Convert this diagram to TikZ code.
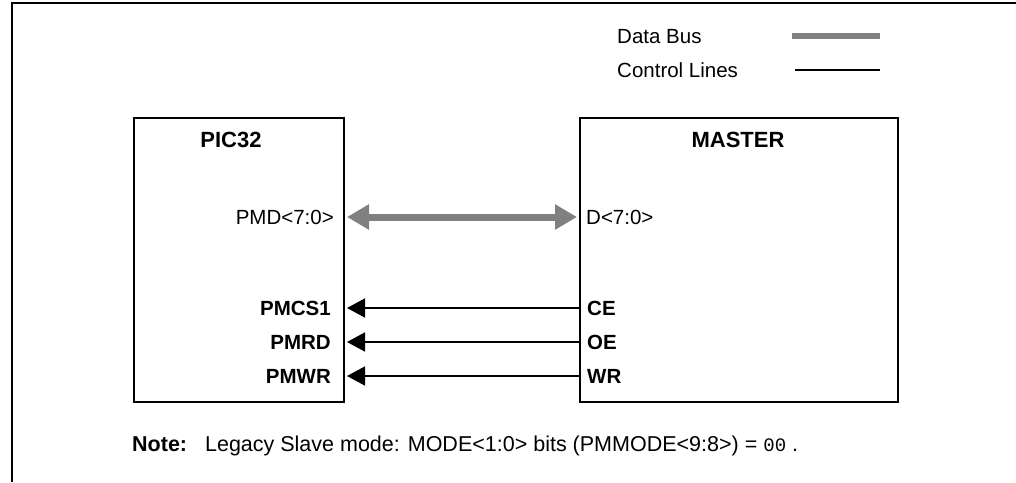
\documentclass[tikz,border=0pt]{standalone}
\usepackage{fontspec}
\setmainfont{Liberation Sans}
\newfontfamily\codefont{Liberation Mono}
\definecolor{busgray}{RGB}{128,128,128}
\usetikzlibrary{arrows.meta,positioning}

\begin{document}
\begin{tikzpicture}[x=1pt, y=-1pt,
  every node/.style={font=\fontsize{20.5}{24}\selectfont, inner sep=0pt},
  chip/.style={draw, line width=2pt, anchor=north west, minimum height=284pt},
  title/.style={font=\fontsize{22}{26}\selectfont\bfseries},
  pin/.style={font=\fontsize{20.5}{24}\selectfont\bfseries},
  bus/.style={busgray, line width=7pt, {Triangle[length=22pt,width=24pt]}-{Triangle[length=22pt,width=24pt]}, shorten <=2pt, shorten >=2pt},
  ctrl/.style={line width=1.5pt, -{Triangle[length=18pt,width=19pt]}, shorten >=2pt}]
\useasboundingbox (0,0) rectangle (1016,482);
\draw[line width=2pt] (12,482) -- (12,3) -- (1016,3);

% legend
\node[anchor=west] (lbus) at (617,37) {Data Bus};
\node[anchor=west] (lctrl) at (617,70) {Control Lines};
\coordinate (lbusA) at (792,36);
\coordinate (lbusB) at (880,36);
\coordinate (lctrlA) at (795,70);
\coordinate (lctrlB) at (880,70);
\draw[busgray, line width=6pt] (lbusA) -- (lbusB);
\draw[line width=1.5pt] (lctrlA) -- (lctrlB);

% devices
\node[chip, minimum width=210pt] (pic) at (133,117) {};
\node[chip, minimum width=318pt] (master) at (579,117) {};
\node[title] (pictitle) at (231,140) {PIC32};
\node[title] (mtitle) at (738,140) {MASTER};

\node[anchor=east] (pmd) at (334,217) {PMD<7:0>};
\node[anchor=west] (d) at (586,217) {D<7:0>};
\node[pin, anchor=east] (pmcs) at (331,308) {PMCS1};
\node[pin, anchor=east] (pmrd) at (331,342) {PMRD};
\node[pin, anchor=east] (pmwr) at (331,376) {PMWR};
\node[pin, anchor=west] (ce) at (587,308) {CE};
\node[pin, anchor=west] (oe) at (587,342) {OE};
\node[pin, anchor=west] (wr) at (587,376) {WR};

\draw[bus] (pic.east |- pmd) -- (master.west |- pmd);
\draw[ctrl] (master.west |- ce) -- (pic.east |- pmcs);
\draw[ctrl] (master.west |- oe) -- (pic.east |- pmrd);
\draw[ctrl] (master.west |- wr) -- (pic.east |- pmwr);

\node[anchor=base west, font=\fontsize{21.5}{25}\selectfont] (note) at (132,451)
  {\textbf{Note:}\hspace{10pt} Legacy Slave mode: MODE<1:0> bits (PMMODE<9:8>) = {\codefont\fontsize{19}{22}\selectfont 00} .};
\end{tikzpicture}
\end{document}
